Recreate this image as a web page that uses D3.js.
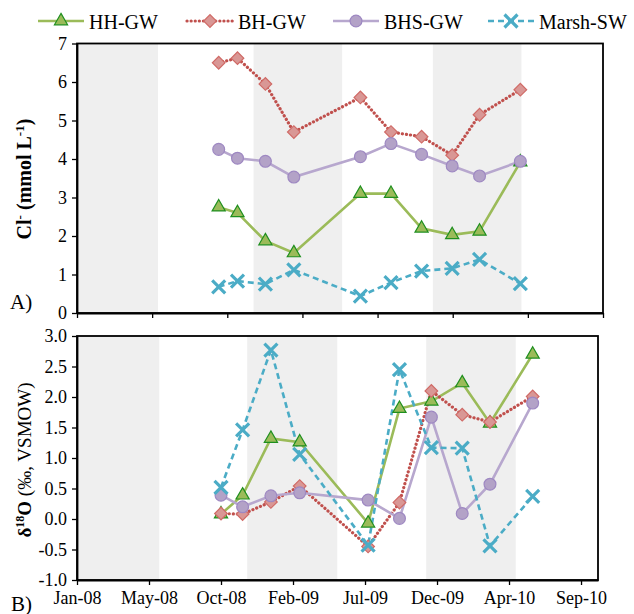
<!DOCTYPE html>
<meta charset="utf-8">
<style>
body { margin: 0; background: #fff; }
svg text { font-family: "Liberation Serif", "DejaVu Serif", serif !important; fill: #000; }
</style>
<body>
<svg id="chart" width="634" height="614"></svg>
</body>
<script src="https://d3js.org/d3.v7.min.js"></script>
<script>
// sampling dates
const clDates = ["2008-09-21","2008-10-26","2008-12-17","2009-02-08","2009-06-12",
                 "2009-08-08","2009-10-04","2009-11-30","2010-01-20","2010-04-06"];
const isoDates = ["2008-10-07","2008-11-18","2009-01-12","2009-03-09","2009-07-20",
                  "2009-09-19","2009-11-20","2010-01-19","2010-03-14","2010-06-05"];

// chloride, mmol/L
const clHH    = [2.75, 2.6, 1.87, 1.56, 3.1, 3.1, 2.2, 2.03, 2.12, 3.92];
const clBH    = [6.5, 6.62, 5.95, 4.7, 5.6, 4.7, 4.58, 4.1, 5.15, 5.8];
const clBHS   = [4.25, 4.02, 3.94, 3.53, 4.06, 4.4, 4.12, 3.82, 3.56, 3.94];
const clMarsh = [0.68, 0.83, 0.75, 1.12, 0.44, 0.79, 1.09, 1.16, 1.39, 0.76];

// delta 18O, permil VSMOW
const oHH    = [0.08, 0.39, 1.32, 1.26, -0.07, 1.81, 1.93, 2.23, 1.57, 2.7];
const oBH    = [0.09, 0.08, 0.28, 0.54, -0.45, 0.27, 2.1, 1.71, 1.59, 2.01];
const oBHS   = [0.39, 0.2, 0.38, 0.43, 0.31, 0.01, 1.67, 0.09, 0.57, 1.9];
const oMarsh = [0.52, 1.46, 2.77, 1.06, -0.43, 2.45, 1.17, 1.16, -0.44, 0.37];

// grey bands
const clSeasons  = [["2008-01-01","2008-05-31"],["2008-11-25","2009-05-09"],["2009-10-25","2010-04-08"]];
const isoSeasons = [["2008-01-01","2008-06-09"],["2008-11-27","2009-05-21"],["2009-11-10","2010-05-03"]];

const xTicks = ["2008-01-01","2008-05-20","2008-10-07","2009-02-24","2009-07-14","2009-12-01","2010-04-20","2010-09-07"];
const xTickLabels = ["Jan-08","May-08","Oct-08","Feb-09","Jul-09","Dec-09","Apr-10","Sep-10"];
const clTicks = [0,1,2,3,4,5,6,7];
const isoTicks = [-1,-0.5,0,0.5,1,1.5,2,2.5,3];

const seriesNames = ["HH-GW","BH-GW","BHS-GW","Marsh-SW"];

const parse = d3.utcParse("%Y-%m-%d");
const serif = "'Liberation Serif', 'DejaVu Serif', serif";

const styles = {
  "HH-GW":   {line: "#9BBB59", dash: null, cap: "butt", fill: "#9BBB59", stroke: "#1f8f1f", sym: "tri"},
  "BH-GW":   {line: "#C0504D", dash: "0.1,4", cap: "round", fill: "#D99795", stroke: "#D06A66", sym: "dia"},
  "BHS-GW":  {line: "#B7A7CE", dash: null, cap: "butt", fill: "#B3A2C7", stroke: "#9E88C2", sym: "cir"},
  "Marsh-SW":{line: "#4BACC6", dash: "6,4", cap: "butt", fill: "none", stroke: "#4BACC6", sym: "x"}
};

const svg = d3.select("#chart");

function marker(g, name, x, y) {
  const s = styles[name];
  if (s.sym === "x") {
    const r = 6.5;
    g.append("path")
      .attr("d", `M${x-r},${y-r}L${x+r},${y+r}M${x-r},${y+r}L${x+r},${y-r}`)
      .attr("stroke", s.stroke).attr("stroke-width", 3.2).attr("fill", "none");
    return;
  }
  let type = d3.symbolCircle, size = 110, rot = 0;
  if (s.sym === "tri") { type = d3.symbolTriangle; size = 75; }
  if (s.sym === "dia") { type = d3.symbolSquare; size = 80; rot = 45; }
  g.append("path")
    .attr("d", d3.symbol().type(type).size(size)())
    .attr("transform", `translate(${x},${y}) rotate(${rot})`)
    .attr("fill", s.fill).attr("stroke", s.stroke).attr("stroke-width", 1.2);
}

function panel(opt) {
  const x = d3.scaleUtc().domain(opt.xDomain.map(parse)).range([opt.left, opt.right]);
  const y = d3.scaleLinear().domain(opt.yDomain).range([opt.bottom, opt.top]);
  const g = svg.append("g");

  g.selectAll("rect.band").data(opt.seasons).enter().append("rect")
    .attr("x", d => x(parse(d[0])))
    .attr("width", d => x(parse(d[1])) - x(parse(d[0])))
    .attr("y", opt.top).attr("height", opt.bottom - opt.top)
    .attr("fill", "#EFEFEF");

  g.append("rect")
    .attr("x", opt.left).attr("y", opt.top)
    .attr("width", opt.right - opt.left).attr("height", opt.bottom - opt.top)
    .attr("fill", "none").attr("stroke", "#000").attr("stroke-width", 1.8);

  const xAxis = d3.axisBottom(x).tickValues(xTicks.map(parse)).tickSize(5).tickSizeOuter(0)
    .tickFormat((d, i) => opt.labels ? xTickLabels[i] : "");
  const gx = g.append("g").attr("transform", `translate(0,${opt.bottom})`).call(xAxis)
    .attr("font-family", serif);
  gx.select(".domain").attr("stroke-width", 1.8);
  gx.selectAll(".tick line").attr("stroke-width", 1.3);
  gx.selectAll(".tick text").style("font-family", serif).attr("font-size", 18)
    .attr("dy", 0).attr("y", 24);

  const yAxis = d3.axisLeft(y).tickValues(opt.yTicks).tickSize(5).tickSizeOuter(0)
    .tickFormat(opt.fmt);
  const gy = g.append("g").attr("transform", `translate(${opt.left},0)`).call(yAxis)
    .attr("font-family", serif);
  gy.select(".domain").attr("stroke-width", 1.8);
  gy.selectAll(".tick line").attr("stroke-width", 1.3);
  gy.selectAll(".tick text").style("font-family", serif).attr("font-size", 18)
    .attr("x", -10).attr("dy", "0.32em");

  const dates = opt.dates.map(parse);
  seriesNames.forEach((name, k) => {
    const vals = opt.series[k];
    const s = styles[name];
    const pts = vals.map((v, i) => [x(dates[i]), y(v)]);
    g.append("path")
      .attr("d", d3.line()(pts))
      .attr("fill", "none").attr("stroke", s.line)
      .attr("stroke-width", name === "BH-GW" ? 3.2 : 2.6)
      .attr("stroke-dasharray", s.dash).attr("stroke-linecap", s.cap);
  });
  seriesNames.forEach((name, k) => {
    const vals = opt.series[k];
    vals.forEach((v, i) => marker(g, name, x(dates[i]), y(v)));
  });
  return g;
}

panel({
  left: 77, right: 603, top: 43.5, bottom: 313,
  xDomain: ["2008-01-01","2010-09-07"], yDomain: [0, 7],
  yTicks: clTicks, fmt: d3.format("d"), labels: false,
  seasons: clSeasons, dates: clDates,
  series: [clHH, clBH, clBHS, clMarsh]
});

panel({
  left: 77, right: 598, top: 336, bottom: 580,
  xDomain: ["2008-01-01","2010-10-10"], yDomain: [-1, 3],
  yTicks: isoTicks, fmt: d => d3.format(".1f")(d).replace("\u2212", "-"), labels: true,
  seasons: isoSeasons, dates: isoDates,
  series: [oHH, oBH, oBHS, oMarsh]
});

// axis titles
const t1 = svg.append("text").style("font-family", serif)
  .attr("transform", "translate(31,179) rotate(-90)")
  .attr("text-anchor", "middle").attr("font-size", 20).attr("font-weight", "bold");
t1.append("tspan").text("Cl");
t1.append("tspan").attr("dy", -7).attr("font-size", 13).text("-");
t1.append("tspan").attr("dy", 7).text(" (mmol L");
t1.append("tspan").attr("dy", -7).attr("font-size", 13).text("-1");
t1.append("tspan").attr("dy", 7).text(")");

const t2 = svg.append("text").style("font-family", serif)
  .attr("transform", "translate(31,460) rotate(-90)")
  .attr("text-anchor", "middle").attr("font-size", 19);
t2.append("tspan").attr("font-weight", "bold").text("δ");
t2.append("tspan").attr("font-weight", "bold").attr("dy", -7).attr("font-size", 12).text("18");
t2.append("tspan").attr("font-weight", "bold").attr("dy", 7).text("O");
t2.append("tspan").text(" (‰, VSMOW)");

svg.append("text").style("font-family", serif).attr("x", 10).attr("y", 309).attr("font-size", 21).text("A)");
svg.append("text").style("font-family", serif).attr("x", 11).attr("y", 611).attr("font-size", 21).text("B)");

// legend
const legendX = [38, 187, 333, 488];
const legend = svg.append("g");
seriesNames.forEach((name, i) => {
  const s = styles[name];
  const x0 = legendX[i];
  legend.append("line")
    .attr("x1", x0).attr("x2", x0 + 46).attr("y1", 21).attr("y2", 21)
    .attr("stroke", s.line).attr("stroke-width", name === "BH-GW" ? 3.2 : 2.6)
    .attr("stroke-dasharray", s.dash).attr("stroke-linecap", s.cap);
  marker(legend, name, x0 + 23, 21);
  legend.append("text").style("font-family", serif)
    .attr("x", x0 + 51).attr("y", 29).attr("font-size", 20).text(name);
});
</script>
